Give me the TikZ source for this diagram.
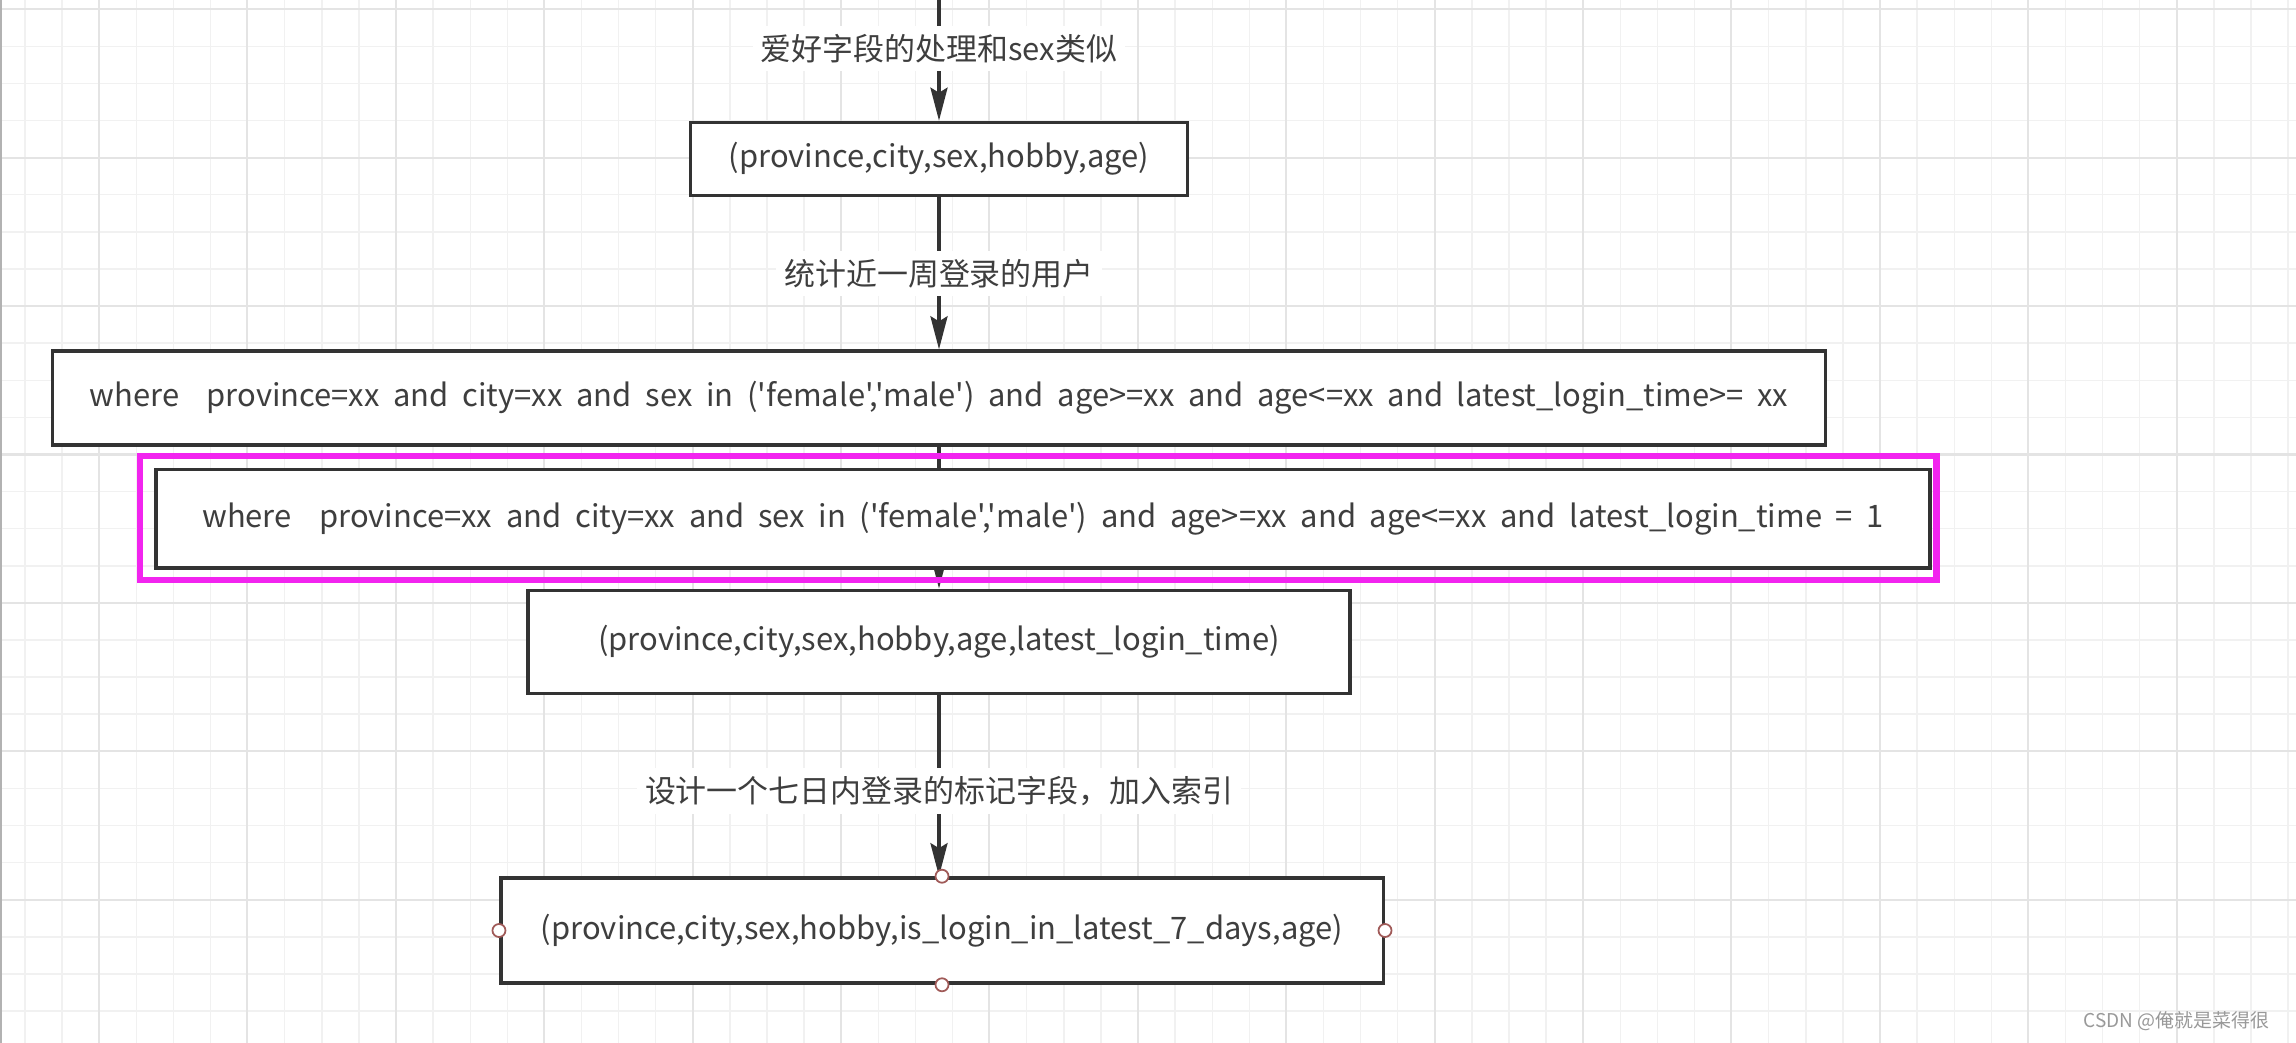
\documentclass[tikz,border=0pt]{standalone}
\usepackage{fontspec}
\newfontfamily\cjkfont{Noto Sans CJK SC}
\newcommand\widespaces{\spaceskip 3.9pt plus 1pt minus 1pt\relax}
\usetikzlibrary{positioning, arrows.meta}

\definecolor{linegray}{HTML}{333333}
\definecolor{textgray}{HTML}{3E3E3E}
\definecolor{gridminor}{HTML}{F1F1F1}
\definecolor{gridmajor}{HTML}{E4E4E4}
\definecolor{hilite}{HTML}{F224EF}
\definecolor{handle}{HTML}{A05A58}

\pgfdeclarelayer{grid}
\pgfdeclarelayer{wires}
\pgfsetlayers{grid,wires,main}

\begin{document}
\begin{tikzpicture}[
    x=0.01cm, y=-0.01cm,
    every node/.style={
        font=\cjkfont\fontsize{8.8}{10}\selectfont,
        text=textgray
    },
    box/.style={
        draw=linegray,
        line width=1pt,
        fill=white,
        inner sep=0pt,
        align=center
    },
    widebox/.style={box, font=\cjkfont\fontsize{8.8}{10}\selectfont\widespaces},
    arrow/.style={-{Stealth[length=0.33cm, width=0.17cm, inset=0.05cm]}, line width=1pt, color=linegray},
    note/.style={fill=white, inner sep=0.08cm},
    grip/.style={circle, draw=handle, fill=white, line width=0.5pt, minimum size=0.13cm, inner sep=0pt}
]

    \useasboundingbox (0,0) rectangle (2296,1043);

    % grid paper
    \begin{pgfonlayer}{grid}
        \fill[white] (0,0) rectangle (2296,1043);
        \foreach \i in {0,...,61}
            \draw[gridminor, line width=0.4pt] ({25+37.1*\i},0) -- ++(0,1043);
        \foreach \i in {0,...,27}
            \draw[gridminor, line width=0.4pt] (0,{9.3+37.1*\i}) -- ++(2296,0);
        \foreach \i in {0,...,14}
            \draw[gridmajor, line width=0.6pt] ({99+148.4*\i},0) -- ++(0,1043);
        \foreach \i in {0,...,6}
            \draw[gridmajor, line width=0.6pt] (0,{9.3+148.4*\i}) -- ++(2296,0);
        \draw[gray!60, line width=0.6pt] (1,0) -- (1,1043);
    \end{pgfonlayer}

    \coordinate (entry) at (939,0);

    \node[box, minimum width=4.97cm, minimum height=0.73cm] (cols1) at (939,159) {(province,city,sex,hobby,age)};
    \node[widebox, minimum width=17.72cm, minimum height=0.94cm, below=1.52cm of cols1] (q2)
        {where\ \ province=xx and city=xx and sex in ('female','male') and age>=xx and age<=xx and latest\_login\_time>= xx};
    \node[widebox, minimum width=17.73cm, minimum height=0.98cm, below=0.21cm of q2, xshift=1.04cm] (q3)
        {where\ \ province=xx and city=xx and sex in ('female','male') and age>=xx and age<=xx and latest\_login\_time = 1};
    \node[box, minimum width=8.22cm, minimum height=1.03cm, below=0.19cm of q3, xshift=-1.04cm] (cols2)
        {(province,city,sex,hobby,age,latest\_login\_time)};
    \node[box, minimum width=8.82cm, minimum height=1.05cm, below=1.81cm of cols2, xshift=0.03cm] (cols3)
        {(province,city,sex,hobby,is\_login\_in\_latest\_7\_days,age)};

    \begin{pgfonlayer}{wires}
        \draw[arrow] (entry) -- node[note, pos=0.4] {爱好字段的处理和sex类似} (cols1);
        \draw[arrow] (cols1) -- node[note] {统计近一周登录的用户} (q2);
        \draw[arrow] (q2) -- (cols2);
        \draw[arrow] (cols2) -- node[note, pos=0.53] {设计一个七日内登录的标记字段，加入索引} (cols2 |- cols3.north);
    \end{pgfonlayer}

    % highlight frame
    \draw[hilite, line width=1.85pt] ([xshift=-0.145cm, yshift=0.12cm]q3.north west) rectangle ([xshift=0.045cm, yshift=-0.105cm]q3.south east);

    % selection handles
    \foreach \a in {north,south,east,west}
        \node[grip] (grip-\a) at (cols3.\a) {};

    \node[anchor=east, inner sep=0pt, text=gray!80, font=\cjkfont\fontsize{5.4}{6}\selectfont] (mark) at (2270,1021) {CSDN @俺就是菜得很};

\end{tikzpicture}
\end{document}
